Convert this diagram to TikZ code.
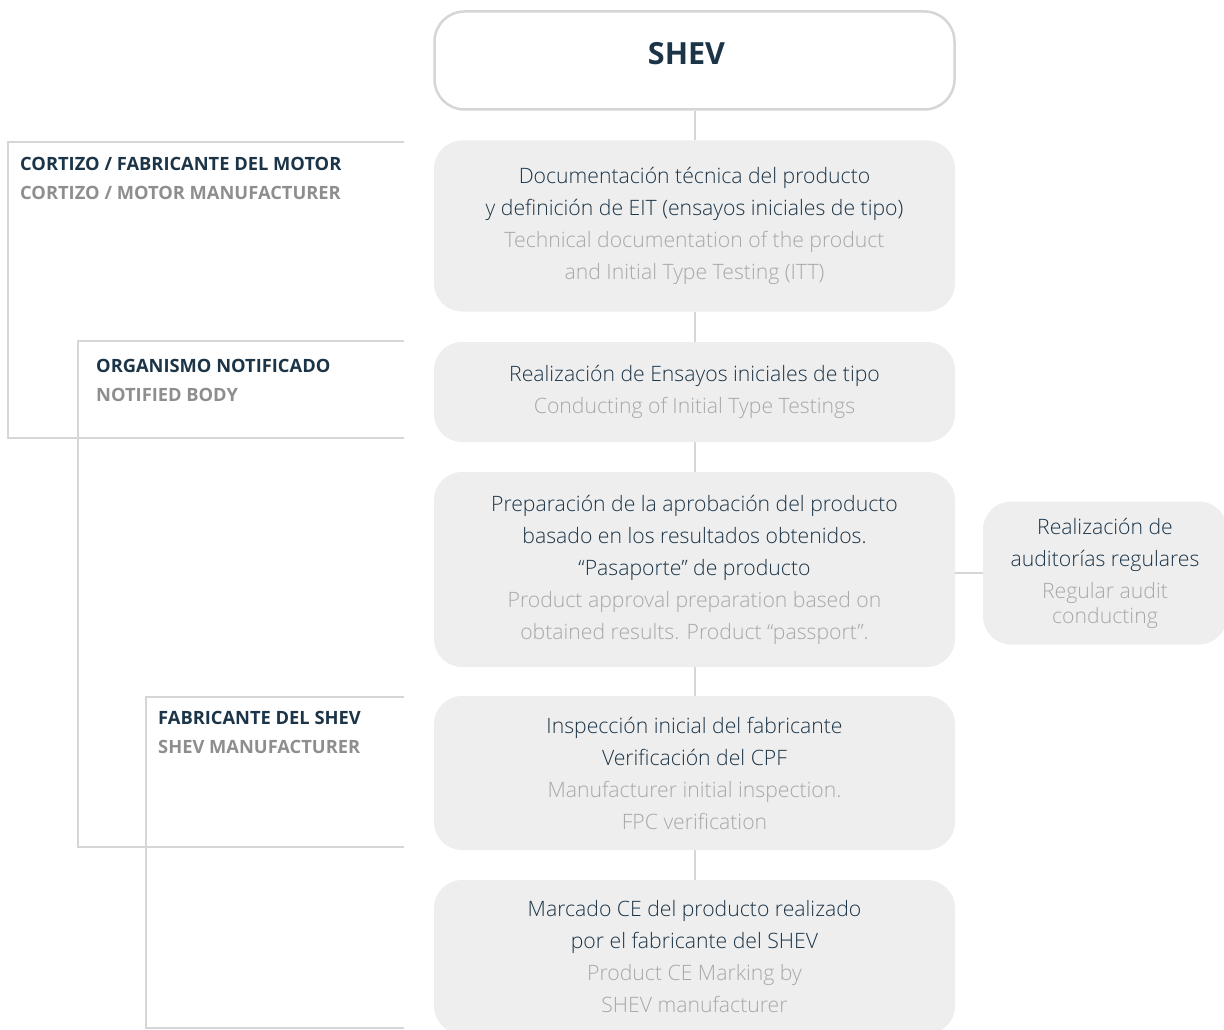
\documentclass[tikz,border=0pt]{standalone}
\usepackage{fontspec}
\setmainfont{Open Sans}
\newfontfamily\lightfont{Open Sans Light}
\usetikzlibrary{positioning}
\definecolor{ink}{HTML}{1B3447}
\definecolor{mute}{HTML}{A8A8A8}
\definecolor{tag}{HTML}{8E8E8E}
\definecolor{fillgray}{HTML}{EEEEEE}
\definecolor{rule}{HTML}{D6D6D6}
\tikzstyle{phase}=[rounded corners=28pt, fill=fillgray, minimum width=521pt, align=center,
    text=ink, font=\lightfont\fontsize{21.2}{32}\selectfont, inner sep=0pt]
\tikzstyle{party}=[anchor=base west, align=left, inner sep=0pt, text=ink,
    font=\bfseries\fontsize{18.3}{29}\selectfont]
\tikzstyle{link}=[draw=rule, line width=2pt]
\newcommand{\phase}{\node[phase]}
\newcommand{\en}[1]{{\color{mute}#1}}
\newcommand{\tg}[1]{{\color{tag}#1}}

\begin{document}
\begin{tikzpicture}[x=1pt, y=-1pt]
\useasboundingbox (0,0) rectangle (1224,1030);
\clip (0,0) rectangle (1224,1030);
% top box
\node[draw=rule, line width=2.5pt, fill=white, rounded corners=30pt, minimum width=520pt,
    minimum height=98pt] (shev) at (694.5,60.5) {};
\node[text=ink, font=\bfseries\fontsize{30.5}{34}\selectfont] (title) at ([xshift=-8pt,yshift=6.5pt]shev.center) {SHEV};
% steps
\phase[minimum height=171pt] (doc) at (694.5,226) {Documentación técnica del producto\\
    y definición de EIT (ensayos iniciales de tipo)\\
    \en{Technical documentation of the product}\\
    \en{and Initial Type Testing (ITT)}};
\phase[minimum height=100pt] (test) at (694.5,392) {Realización de Ensayos iniciales de tipo\\
    \en{Conducting of Initial Type Testings}};
\phase[minimum height=195pt] (pass) at (694.5,569.5) {Preparación de la aprobación del producto\\
    basado en los resultados obtenidos.\\
    “Pasaporte” de producto\\
    \en{Product approval preparation based on}\\
    \en{obtained results. Product “passport”.}};
\phase[minimum height=154pt] (insp) at (694.5,773) {Inspección inicial del fabricante\\
    Verificación del CPF\\
    \en{Manufacturer initial inspection.}\\
    \en{FPC verification}};
\phase[minimum height=154pt] (mark) at (694.5,957) {Marcado CE del producto realizado\\
    por el fabricante del SHEV\\
    \en{Product CE Marking by}\\
    \en{SHEV manufacturer}};
\phase[minimum width=244pt, minimum height=143pt] (audit) at (1105,573) {Realización de\\
    auditorías regulares\\
    \en{Regular audit}\\[-7pt]
    \en{conducting}};
% connectors
\path[link]
(shev) -- (doc)
(doc) -- (test)
(test) -- (pass)
(pass) -- (insp)
(insp) -- (mark)
(pass.east |- audit.west) -- (audit.west)
;
% brackets
\draw[link] (404,142) -- (8,142) -- (8,438) -- (404,438);
\draw[link] (404,341) -- (78,341) -- (78,847) -- (404,847);
\draw[link] (404,697) -- (146,697) -- (146,1028) -- (404,1028);
% parties
\node[party] (motor) at (20,200) {CORTIZO / FABRICANTE DEL MOTOR\\ \tg{CORTIZO / MOTOR MANUFACTURER}};
\node[party] (body) at (96,401) {ORGANISMO NOTIFICADO\\ \tg{NOTIFIED BODY}};
\node[party] (maker) at (158,753) {FABRICANTE DEL SHEV\\ \tg{SHEV MANUFACTURER}};
\end{tikzpicture}
\end{document}
